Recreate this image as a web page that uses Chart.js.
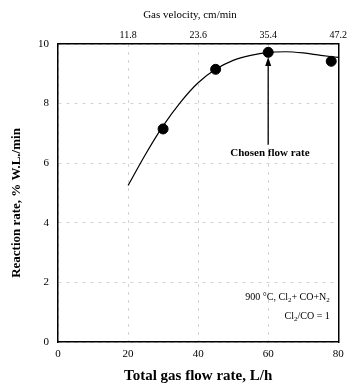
<!DOCTYPE html>
<html><head><meta charset="utf-8">
<script src="https://cdn.jsdelivr.net/npm/chart.js@4/dist/chart.umd.min.js"></script>
<style>html,body{margin:0;padding:0;background:#fff}#wrap{width:350px;height:385px}</style>
</head><body><div id="wrap"><canvas id="c" width="350" height="385"></canvas></div>
<script>
// Measured points
const flowRate = [30, 45, 60, 78];
const reactionRate = [7.15, 9.15, 9.72, 9.42];
// Fitted curve
const curveFlow = [20, 25, 30, 35, 40, 45, 50, 55, 60, 65, 70, 75, 80];
const curveRate = [5.25, 6.3, 7.25, 8.05, 8.7, 9.15, 9.45, 9.62, 9.72, 9.74, 9.7, 9.62, 9.55];
// Tick labels
const bottomTicks = [0, 20, 40, 60, 80];
const topTicks = ["11.8", "23.6", "35.4", "47.2"];
const yTicks = [0, 2, 4, 6, 8, 10];
// Titles
const yTitle = 'Reaction rate, % W.L./min';
const topTitle = 'Gas velocity, cm/min';
const bottomTitle = 'Total gas flow rate, L/h';
// Annotation
const chosenFlow = 60;
const arrowFrom = 6.62, arrowTo = 9.56;

const serif = '"Liberation Serif","Times New Roman",serif';

const annot = {
  id: 'annot',
  afterDatasetsDraw(chart) {
    const {ctx, scales} = chart;
    const x = scales.x, y = scales.y;
    ctx.save();
    ctx.strokeStyle = '#000'; ctx.fillStyle = '#000'; ctx.lineWidth = 1.3;
    const px = x.getPixelForValue(chosenFlow);
    const y0 = y.getPixelForValue(arrowFrom), y1 = y.getPixelForValue(arrowTo);
    ctx.beginPath(); ctx.moveTo(px, y0); ctx.lineTo(px, y1 + 6); ctx.stroke();
    ctx.beginPath(); ctx.moveTo(px, y1); ctx.lineTo(px - 3, y1 + 9); ctx.lineTo(px + 3, y1 + 9); ctx.closePath(); ctx.fill();
    ctx.font = 'bold 11px ' + serif; ctx.textAlign = 'center'; ctx.textBaseline = 'middle';
    ctx.fillText('Chosen flow rate', x.getPixelForValue(60.5), y.getPixelForValue(6.34));
    // titles
    ctx.font = '11px ' + serif;
    ctx.fillText(topTitle, 190, 15);
    ctx.save();
    ctx.translate(17, 203); ctx.rotate(-Math.PI / 2);
    ctx.font = 'bold 13px ' + serif;
    ctx.fillText(yTitle, 0, 0);
    ctx.restore();
    // condition text, right aligned
    const rich = (parts, rx, ry) => {
      let w = 0;
      parts.forEach(p => { ctx.font = (p.s ? '7px ' : '10px ') + serif; w += ctx.measureText(p.t).width; });
      let cx = rx - w;
      ctx.textAlign = 'left'; ctx.textBaseline = 'alphabetic';
      parts.forEach(p => { ctx.font = (p.s ? '7px ' : '10px ') + serif; ctx.fillText(p.t, cx, ry + (p.s ? 2.5 : 0)); cx += ctx.measureText(p.t).width; });
    };
    const rx = x.getPixelForValue(77.6);
    rich([{t:'900 °C, Cl'},{t:'2',s:1},{t:'+ CO+N'},{t:'2',s:1}], rx, y.getPixelForValue(1.42));
    rich([{t:'Cl'},{t:'2',s:1},{t:'/CO = 1'}], rx, y.getPixelForValue(0.78));
    ctx.restore();
  }
};

const gridStyle = { color: '#c8c8c8', lineWidth: 0.8, drawTicks: false };

new Chart(document.getElementById('c'), {
  type: 'scatter',
  data: {
    datasets: [
      { data: curveFlow.map((v, i) => ({x: v, y: curveRate[i]})), showLine: true, pointRadius: 0,
        borderColor: '#000', borderWidth: 1.2, tension: 0.4, cubicInterpolationMode: 'monotone', fill: false },
      { data: flowRate.map((v, i) => ({x: v, y: reactionRate[i]})), pointRadius: 5, pointHoverRadius: 5,
        backgroundColor: '#000', borderColor: '#000', showLine: false }
    ]
  },
  options: {
    responsive: false, animation: false, devicePixelRatio: 1,
    layout: { padding: { left: 0, right: 11, top: 0, bottom: 0 } },
    plugins: { legend: { display: false }, tooltip: { enabled: false } },
    scales: {
      x: {
        type: 'linear', position: 'bottom', min: 0, max: 80,
        afterBuildTicks: s => { s.ticks = bottomTicks.map(v => ({value: v})); },
        afterFit: s => { s.height = 43; },
        ticks: { color: '#000', font: { family: serif, size: 11 }, padding: 6 },
        grid: gridStyle,
        border: { display: true, color: '#000', width: 1.5, dash: [3, 5] },
        title: { display: true, text: bottomTitle, color: '#000', font: { family: serif, size: 15, weight: 'bold' }, padding: { top: 0, bottom: 0 } }
      },
      x2: {
        type: 'linear', position: 'top', min: 0, max: 47.2,
        afterBuildTicks: s => { s.ticks = topTicks.map(v => ({value: parseFloat(v)})); },
        afterFit: s => { s.height = 44; },
        ticks: { color: '#000', font: { family: serif, size: 10 }, padding: 3,
          callback: (v) => { const k = topTicks.find(t => Math.abs(parseFloat(t) - v) < 1e-6); return k || ''; } },
        grid: { display: false, drawTicks: false },
        border: { display: true, color: '#000', width: 1.5 }
      },
      y: {
        type: 'linear', min: 0, max: 10,
        afterBuildTicks: s => { s.ticks = yTicks.map(v => ({value: v})); },
        afterFit: s => { s.width = 58; },
        ticks: { color: '#000', font: { family: serif, size: 11 }, padding: 9 },
        grid: gridStyle,
        border: { display: true, color: '#000', width: 1.5, dash: [3, 5] }
      },
      y2: {
        type: 'linear', position: 'right', min: 0, max: 10,
        afterFit: s => { s.width = 0; },
        ticks: { display: false }, grid: { display: false, drawTicks: false },
        border: { display: true, color: '#000', width: 1.5 }
      }
    }
  },
  plugins: [annot]
});
</script></body></html>
